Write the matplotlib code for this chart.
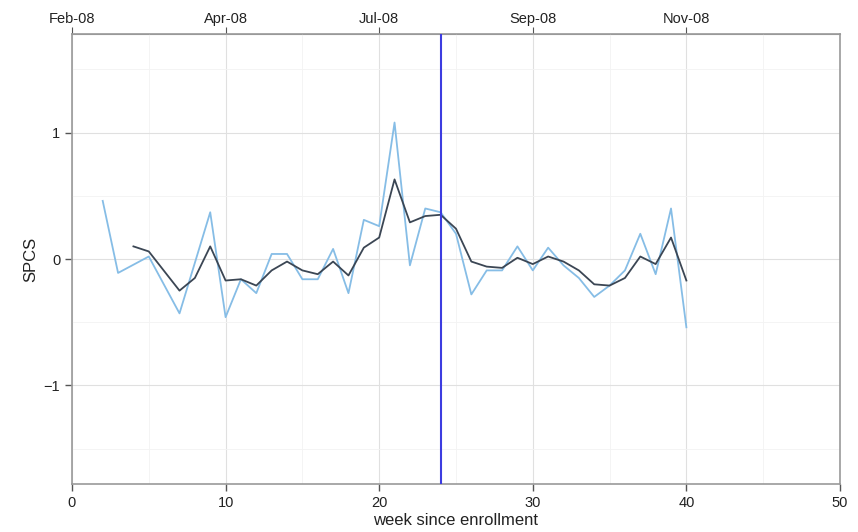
import matplotlib
matplotlib.use("Agg")
import matplotlib.pyplot as plt
import numpy as np

# weekly SPCS, raw (light) and smoothed (dark)
weeks_raw = [2, 3, 5, 7, 9, 10, 11, 12, 13, 14, 15, 16, 17, 18, 19, 20, 21, 22, 23, 24,
             25, 26, 27, 28, 29, 30, 31, 32, 33, 34, 35, 36, 37, 38, 39, 40]
spcs_raw = [0.46, -0.11, 0.02, -0.43, 0.37, -0.46, -0.16, -0.27, 0.04, 0.04, -0.16, -0.16,
            0.08, -0.27, 0.31, 0.26, 1.08, -0.05, 0.40, 0.37,
            0.20, -0.28, -0.09, -0.09, 0.10, -0.09, 0.09, -0.05, -0.15, -0.30, -0.21, -0.09,
            0.20, -0.12, 0.40, -0.54]

weeks_smooth = [4, 5, 7, 8, 9, 10, 11, 12, 13, 14, 15, 16, 17, 18, 19, 20, 21, 22, 23, 24,
                25, 26, 27, 28, 29, 30, 31, 32, 33, 34, 35, 36, 37, 38, 39, 40]
spcs_smooth = [0.10, 0.06, -0.25, -0.15, 0.10, -0.17, -0.16, -0.21, -0.09, -0.02, -0.09, -0.12,
               -0.02, -0.13, 0.09, 0.17, 0.63, 0.29, 0.34, 0.35,
               0.24, -0.02, -0.06, -0.07, 0.01, -0.04, 0.02, -0.02, -0.09, -0.20, -0.21, -0.15,
               0.02, -0.04, 0.17, -0.17]

event_week = 24
top_ticks = [0, 10, 20, 30, 40]
top_labels = ["Feb-08", "Apr-08", "Jul-08", "Sep-08", "Nov-08"]

plt.rcParams['font.family'] = ['Liberation Sans', 'DejaVu Sans']

fig = plt.figure(figsize=(8.58, 5.32), dpi=100)
ax = fig.add_axes([0.0839, 0.0902, 0.8951, 0.8458])

ax.plot(weeks_raw, spcs_raw, color="#86bde6", lw=1.3, zorder=3)
ax.plot(weeks_smooth, spcs_smooth, color="#3b4654", lw=1.3, zorder=4)
ax.axvline(event_week, color="#3c3ce0", lw=1.5, zorder=5)

ax.set_xlim(0, 50)
ax.set_ylim(-1.78, 1.78)
ax.set_xticks([0, 10, 20, 30, 40, 50])
ax.set_xticks([5, 15, 25, 35, 45], minor=True)
ax.set_yticks([-1, 0, 1])
ax.set_yticks([-1.5, -0.5, 0.5, 1.5], minor=True)
ax.grid(True, which="major", color="#e0e0e0", lw=0.8, zorder=0)
ax.grid(True, which="minor", color="#f3f3f3", lw=0.6, zorder=0)
ax.tick_params(which="minor", length=0)
ax.tick_params(which="major", direction="out", length=5, color="#555555",
               labelsize=10.5, labelcolor="#222222", width=1)

for s in ax.spines.values():
    s.set_color("#999999")
    s.set_linewidth(1.2)

ax.set_xlabel("week since enrollment", fontsize=12, labelpad=2, color="#222222")
ax.set_ylabel("SPCS", fontsize=12, color="#222222")

top = ax.secondary_xaxis("top")
top.set_xticks(top_ticks)
top.set_xticklabels(top_labels)
top.tick_params(direction="out", length=5, color="#555555", labelsize=10.5,
                labelcolor="#222222", pad=1)
top.spines["top"].set_color("#999999")

fig.savefig("out.png", dpi=100)
